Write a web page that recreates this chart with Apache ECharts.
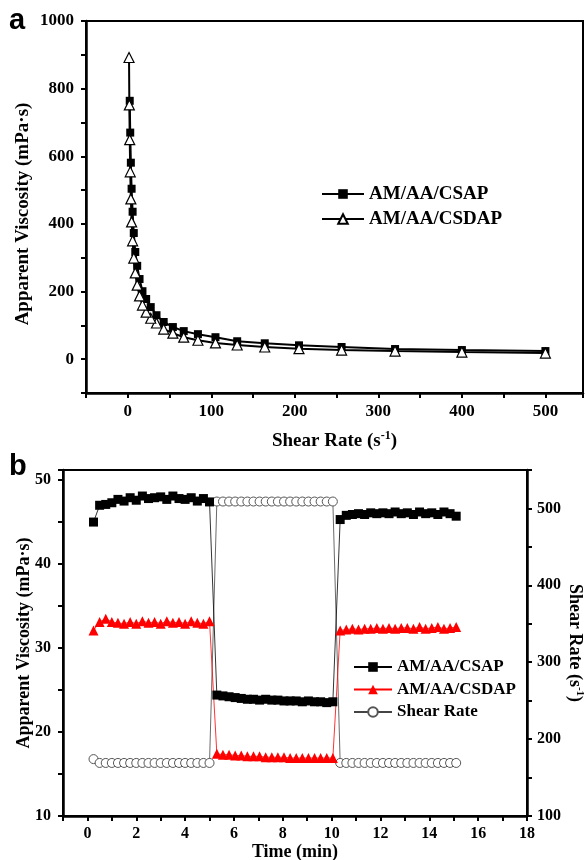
<!DOCTYPE html>
<html>
<head>
<meta charset="utf-8">
<script src="https://cdn.jsdelivr.net/npm/echarts@6/dist/echarts.min.js"></script>
<style>
html,body{margin:0;padding:0;background:#fff;}
#chart{width:585px;height:860px;}
</style>
</head>
<body>
<div id="chart"></div>
<script>
// ---- Panel a: viscosity vs shear rate ----
const shearRateA = [500, 400, 320, 256, 205, 164, 131, 105, 84, 67, 54, 43, 34.4, 27.5, 22, 17.6, 14.1, 11.3, 9.0, 7.2, 5.8, 4.6, 3.7, 2.95, 2.36];
const viscCSAP = [24, 27, 30, 36, 41, 47, 53, 65, 74, 83, 95, 110, 130, 154, 178, 201, 237, 276, 317, 373, 436, 504, 581, 670, 764];
const shearRateB = [500, 400, 320, 256, 205, 164, 131, 105, 84, 67, 54, 43, 34.4, 27.5, 22, 17.6, 14.1, 11.3, 9.0, 7.2, 5.8, 4.6, 3.7, 2.95, 2.36, 1.89, 1.51];
const viscCSDAP = [18, 21, 24, 27, 31, 36, 42, 48, 56, 65, 77, 89, 107, 121, 139, 160, 187, 219, 255, 299, 350, 406, 474, 554, 649, 752, 892];

// ---- Panel b: viscosity / shear rate vs time ----
const timeMin = [0.25, 0.5, 0.75, 1.0, 1.25, 1.5, 1.75, 2.0, 2.25, 2.5, 2.75, 3.0, 3.25, 3.5, 3.75, 4.0, 4.25, 4.5, 4.75, 5.0,
  5.3, 5.55, 5.8, 6.05, 6.3, 6.55, 6.8, 7.05, 7.3, 7.55, 7.8, 8.05, 8.3, 8.55, 8.8, 9.05, 9.3, 9.55, 9.8, 10.05,
  10.35, 10.6, 10.85, 11.1, 11.35, 11.6, 11.85, 12.1, 12.35, 12.6, 12.85, 13.1, 13.35, 13.6, 13.85, 14.1, 14.35, 14.6, 14.85, 15.1];
const tCSAP = [45.0, 47.0, 47.1, 47.3, 47.7, 47.5, 47.9, 47.6, 48.1, 47.8, 47.9, 48.0, 47.7, 48.1, 47.8, 47.7, 47.9, 47.5, 47.8, 47.4,
  24.4, 24.3, 24.2, 24.1, 24.0, 23.9, 23.9, 23.8, 23.9, 23.8, 23.8, 23.7, 23.7, 23.7, 23.6, 23.7, 23.6, 23.6, 23.5, 23.6,
  45.3, 45.8, 45.9, 46.0, 45.9, 46.1, 46.0, 46.1, 46.0, 46.2, 46.0, 46.1, 45.9, 46.2, 46.0, 46.1, 45.9, 46.2, 46.0, 45.7];
const tCSDAP = [32.1, 33.1, 33.5, 33.1, 33.0, 32.9, 33.1, 32.9, 33.2, 33.0, 33.1, 32.9, 33.2, 33.0, 33.1, 32.9, 33.2, 33.0, 32.9, 33.2,
  17.4, 17.3, 17.3, 17.2, 17.2, 17.1, 17.1, 17.1, 17.0, 17.0, 17.0, 17.0, 16.9, 16.9, 16.9, 16.9, 16.9, 16.9, 16.9, 16.9,
  32.1, 32.2, 32.3, 32.2, 32.3, 32.3, 32.4, 32.3, 32.4, 32.3, 32.4, 32.4, 32.3, 32.5, 32.3, 32.4, 32.5, 32.3, 32.4, 32.5];
const tShearRate = [174, 169, 169, 169, 169, 169, 169, 169, 169, 169, 169, 169, 169, 169, 169, 169, 169, 169, 169, 169,
  509, 509, 509, 509, 509, 509, 509, 509, 509, 509, 509, 509, 509, 509, 509, 509, 509, 509, 509, 509,
  169, 169, 169, 169, 169, 169, 169, 169, 169, 169, 169, 169, 169, 169, 169, 169, 169, 169, 169, 169];

const seriesNames = ['AM/AA/CSAP', 'AM/AA/CSDAP', 'Shear Rate'];

const FONT = '"Liberation Serif", "Times New Roman", serif';
const zip = (xs, ys) => xs.map((x, i) => [x, ys[i]]);

function axisCommon(fontSize, labelMargin, fmt) {
  return {
    nameMoveOverlap: false,
    axisLine: { show: true, onZero: false, lineStyle: { color: '#000', width: 2.5 } },
    axisTick: { show: true, length: 5, lineStyle: { color: '#000', width: 2 } },
    splitLine: { show: false },
    axisLabel: { color: '#000', fontFamily: FONT, fontWeight: 'bold', fontSize: fontSize, margin: labelMargin, formatter: fmt }
  };
}

const chart = echarts.init(document.getElementById('chart'), null, { renderer: 'canvas' });

const option = {
  animation: false,
  backgroundColor: '#fff',
  grid: [
    { left: 86, top: 21, width: 497, height: 372, show: true, borderColor: '#000', borderWidth: 2, backgroundColor: 'transparent', containLabel: false, outerBoundsMode: 'none' },
    { left: 63, top: 470, width: 464, height: 346, show: true, borderColor: '#000', borderWidth: 2, backgroundColor: 'transparent', containLabel: false, outerBoundsMode: 'none' }
  ],
  graphic: [
    { type: 'text', left: 9, top: 6, style: { text: 'a', font: 'bold 29px "Liberation Sans", Arial, sans-serif', fill: '#000' } },
    { type: 'text', left: 9, top: 452, style: { text: 'b', font: 'bold 29px "Liberation Sans", Arial, sans-serif', fill: '#000' } }
  ],
  legend: [
    {
      data: [seriesNames[0], seriesNames[1]].map(n => ({ name: n })),
      orient: 'vertical', left: 316, top: 178,
      itemWidth: 42, itemHeight: 12, itemGap: 3,
      textStyle: { color: '#000', fontFamily: FONT, fontWeight: 'bold', fontSize: 19, lineHeight: 22 },
      selectedMode: false
    },
    {
      data: seriesNames.map(n => ({ name: n + ' ' })),
      orient: 'vertical', left: 348, top: 652,
      itemWidth: 38, itemHeight: 12, itemGap: 2.5,
      textStyle: { color: '#000', fontFamily: FONT, fontWeight: 'bold', fontSize: 17, lineHeight: 20 },
      selectedMode: false
    }
  ],
  xAxis: [
    Object.assign({
      type: 'value', gridIndex: 0, min: -50, max: 545, interval: 50,
      name: 'Shear Rate (s{sup|-1})', nameLocation: 'middle', nameGap: 37,
      nameTextStyle: { color: '#000', fontFamily: FONT, fontWeight: 'bold', fontSize: 19,
        rich: { sup: { fontFamily: FONT, fontWeight: 'bold', fontSize: 12, padding: [0, 0, 10, 0] } } }
    }, axisCommon(17, 10, v => (v >= 0 && v % 100 === 0) ? String(v) : '')),
    Object.assign({
      type: 'value', gridIndex: 1, min: -1, max: 18, interval: 1,
      name: 'Time (min)', nameLocation: 'middle', nameGap: 27,
      nameTextStyle: { color: '#000', fontFamily: FONT, fontWeight: 'bold', fontSize: 18 }
    }, axisCommon(16, 10, v => (v >= 0 && v % 2 === 0) ? String(v) : ''))
  ],
  yAxis: [
    Object.assign({
      type: 'value', gridIndex: 0, min: -100, max: 1000, interval: 100,
      name: 'Apparent Viscosity (mPa·s)', nameLocation: 'middle', nameGap: 53,
      nameTextStyle: { color: '#000', fontFamily: FONT, fontWeight: 'bold', fontSize: 19, padding: [0, 14, 0, 0] }
    }, axisCommon(17, 12, v => (v >= 0 && v % 200 === 0) ? String(v) : '')),
    Object.assign({
      type: 'value', gridIndex: 1, min: 10, max: 51.2, interval: 5,
      name: 'Apparent Viscosity (mPa·s)', nameLocation: 'middle', nameGap: 30,
      nameTextStyle: { color: '#000', fontFamily: FONT, fontWeight: 'bold', fontSize: 18 }
    }, axisCommon(16, 12, v => (v % 10 === 0) ? String(v) : '')),
    Object.assign({
      type: 'value', gridIndex: 1, position: 'right', min: 100, max: 550, interval: 50,
      name: 'Shear Rate (s{sup|-1})', nameLocation: 'middle', nameGap: 37, nameRotate: -90,
      nameTextStyle: { color: '#000', fontFamily: FONT, fontWeight: 'bold', fontSize: 18,
        rich: { sup: { fontFamily: FONT, fontWeight: 'bold', fontSize: 11, padding: [0, 0, 10, 0] } } }
    }, axisCommon(16, 10, v => (v % 100 === 0) ? String(v) : ''))
  ],
  series: [
    {
      name: seriesNames[0], type: 'line', xAxisIndex: 0, yAxisIndex: 0,
      data: zip(shearRateA, viscCSAP),
      symbol: 'rect', symbolSize: 8,
      itemStyle: { color: '#000' },
      lineStyle: { color: '#000', width: 2 }
    },
    {
      name: seriesNames[1], type: 'line', xAxisIndex: 0, yAxisIndex: 0,
      data: zip(shearRateB, viscCSDAP),
      symbol: 'triangle', symbolSize: 10,
      itemStyle: { color: '#fff', borderColor: '#000', borderWidth: 1.2 },
      lineStyle: { color: '#000', width: 2 }
    },
    {
      name: seriesNames[2] + ' ', type: 'line', xAxisIndex: 1, yAxisIndex: 2,
      data: zip(timeMin, tShearRate),
      symbol: 'circle', symbolSize: 9,
      itemStyle: { color: '#fff', borderColor: '#555', borderWidth: 1 },
      lineStyle: { color: '#444', width: 0.8 }
    },
    {
      name: seriesNames[0] + ' ', type: 'line', xAxisIndex: 1, yAxisIndex: 1,
      data: zip(timeMin, tCSAP),
      symbol: 'rect', symbolSize: 9,
      itemStyle: { color: '#000' },
      lineStyle: { color: '#000', width: 0.8 }
    },
    {
      name: seriesNames[1] + ' ', type: 'line', xAxisIndex: 1, yAxisIndex: 1,
      data: zip(timeMin, tCSDAP),
      symbol: 'triangle', symbolSize: 10,
      itemStyle: { color: '#ff0000' },
      lineStyle: { color: '#ff0000', width: 0.8 }
    }
  ]
};
chart.setOption(option);
</script>
</body>
</html>
